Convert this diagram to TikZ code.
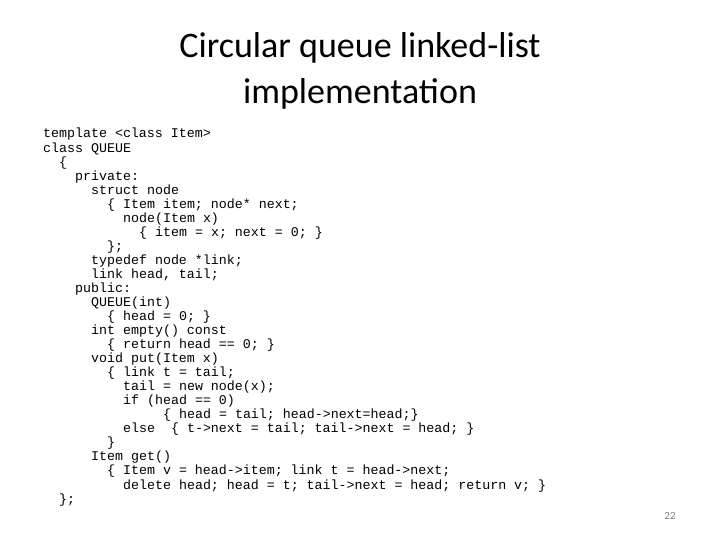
\documentclass[tikz,border=0pt]{standalone}
\usepackage{fontspec}
\setmainfont{Carlito}
\newfontfamily\codefont{Liberation Mono}
\begin{document}
\begin{tikzpicture}[x=1pt,y=-1pt,
  code/.style={anchor=base west,inner sep=0pt,font=\codefont\fontsize{13.3}{14}\selectfont},
  ttl/.style={anchor=base,inner sep=0pt,font=\fontsize{36}{40}\selectfont}]
\useasboundingbox (0,0) rectangle (720,540);
\node[ttl] (t1) at (360,58) {Circular queue linked-list};
\node[ttl] (t2) at (360,104) {implementation};
\foreach \i/\ind/\txt in {
0/0/{template <class Item>},
1/0/{class QUEUE},
2/2/{\{},
3/4/{private:},
4/6/{struct node},
5/8/{\{ Item item; node* next;},
6/10/{node(Item x)},
7/12/{\{ item = x; next = 0; \}},
8/8/{\};},
9/6/{typedef node *link;},
10/6/{link head, tail;},
11/4/{public:},
12/6/{QUEUE(int)},
13/8/{\{ head = 0; \}},
14/6/{int empty() const},
15/8/{\{ return head == 0; \}},
16/6/{void put(Item x)},
17/8/{\{ link t = tail;},
18/10/{tail = new node(x);},
19/10/{if (head == 0)},
20/15/{\{ head = tail; head->next=head;\}},
21/10/{else\ \ \{ t->next = tail; tail->next = head; \}},
22/8/{\}},
23/6/{Item get()},
24/8/{\{ Item v = head->item; link t = head->next;},
25/10/{delete head; head = t; tail->next = head; return v; \}},
26/2/{\};}}
  \node[code] (l\i) at (43+8*\ind,138+14.04*\i) {\txt};
\node[anchor=base,inner sep=0pt,font=\fontsize{11}{12}\selectfont,text=gray] (pg) at (670,519) {22};
\end{tikzpicture}
\end{document}
